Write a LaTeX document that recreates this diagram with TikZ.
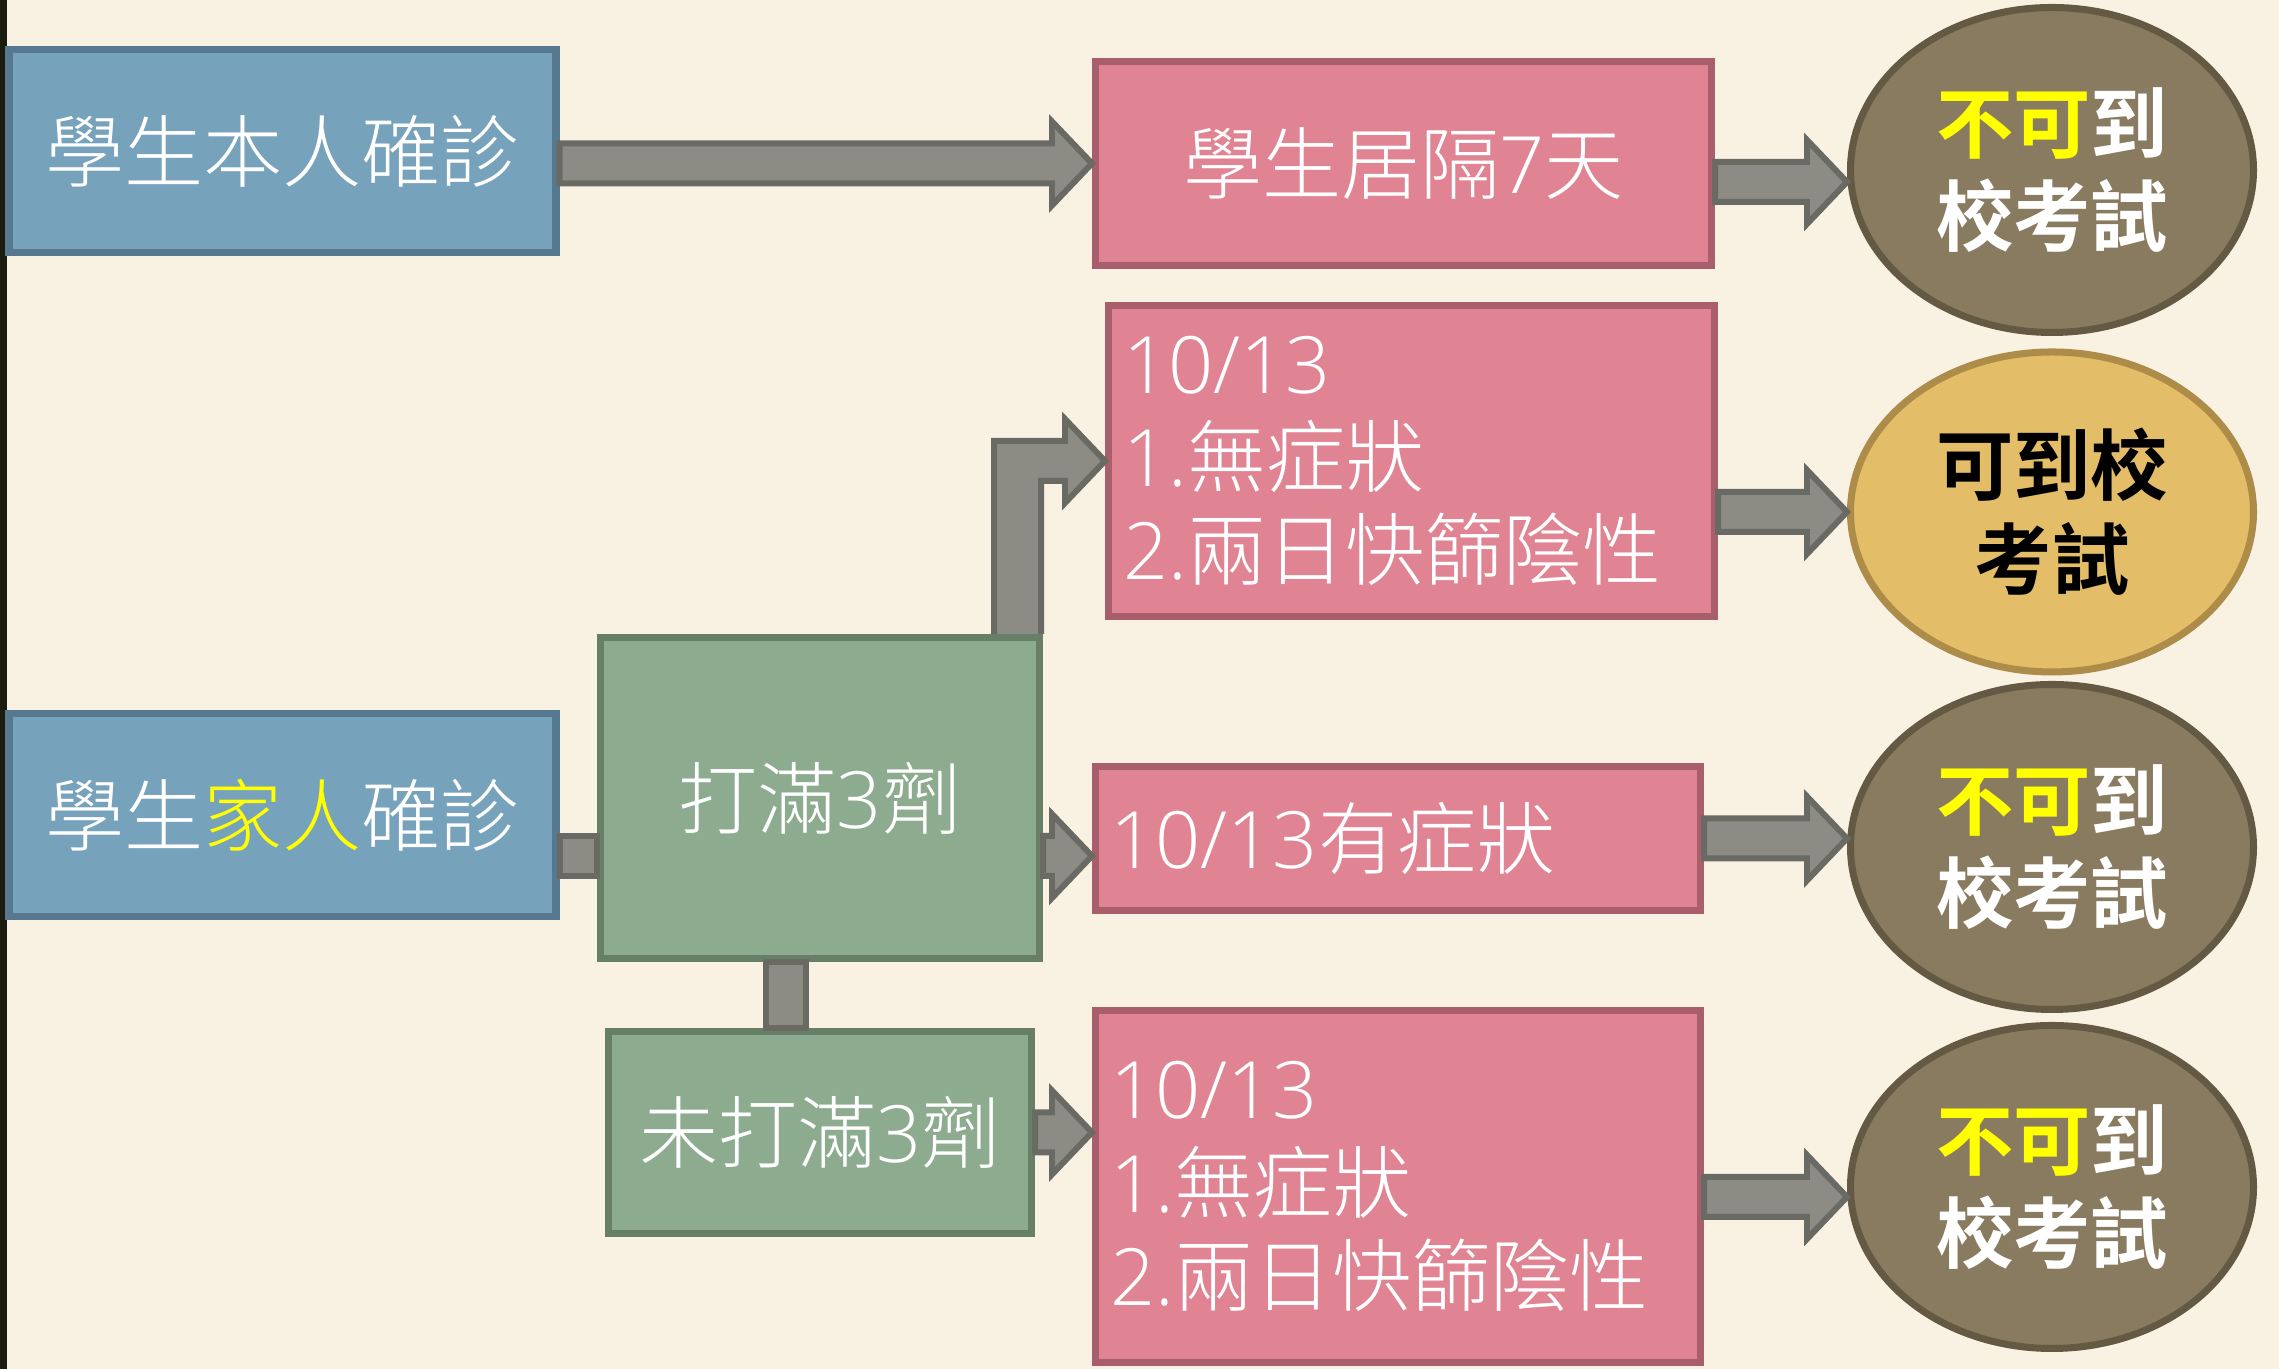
\documentclass[tikz,border=0pt]{standalone}
\usepackage{fontspec}
\setmainfont{Noto Sans CJK TC}[UprightFont=* Light, BoldFont=* Bold]
\IfFontExistsTF{Open Sans Light}{\newfontfamily\numfont{Open Sans Light}}{\newcommand{\numfont}{}}
\usetikzlibrary{shapes.geometric,calc}
\definecolor{bgCream}{RGB}{249,242,226}
\definecolor{sideBar}{RGB}{28,27,16}
\definecolor{boxBlue}{RGB}{119,162,187}
\definecolor{boxBlueEdge}{RGB}{86,121,143}
\definecolor{boxPink}{RGB}{224,131,147}
\definecolor{boxPinkEdge}{RGB}{168,94,107}
\definecolor{boxGreen}{RGB}{141,171,142}
\definecolor{boxGreenEdge}{RGB}{103,127,103}
\definecolor{ovalBrown}{RGB}{137,123,96}
\definecolor{ovalBrownEdge}{RGB}{100,90,68}
\definecolor{ovalGold}{RGB}{227,189,103}
\definecolor{ovalGoldEdge}{RGB}{173,140,74}
\definecolor{arrowGray}{RGB}{140,140,132}
\definecolor{arrowEdge}{RGB}{105,106,99}
\definecolor{hiYellow}{RGB}{255,255,0}

\newcommand{\shaftw}{0.2cm}
\newcommand{\headw}{0.42cm}
\newcommand{\headl}{0.4cm}
\newcommand{\nm}[1]{{\numfont #1}}
% fat arrow, level with its tip
\newcommand{\fatarrow}[2]{%
  \draw[arrowbody] let \p1=(#1), \p2=(#2) in
    (\x1,\y2+\shaftw) -- (\x2-\headl,\y2+\shaftw) -- (\x2-\headl,\y2+\headw) -- (\x2,\y2)
    -- (\x2-\headl,\y2-\headw) -- (\x2-\headl,\y2-\shaftw) -- (\x1,\y2-\shaftw) -- cycle;}
% fat bar, no head
\newcommand{\fatbar}[2]{%
  \draw[arrowbody] let \p1=(#1), \p2=(#2) in (\x1,\y2+\shaftw) rectangle (\x2,\y2-\shaftw);}

\begin{document}
\begin{tikzpicture}
\tikzstyle{every node}=[font=\fontsize{22.5}{26.5}\selectfont, text=white, line width=2pt]
\tikzstyle{bluebox}=[fill=boxBlue, draw=boxBlueEdge, minimum width=5.47cm, minimum height=2.03cm]
\tikzstyle{pinkbox}=[fill=boxPink, draw=boxPinkEdge]
\tikzstyle{notebox}=[pinkbox, minimum width=6.05cm, text width=5.75cm, inner xsep=0.15cm, align=left]
\tikzstyle{greenbox}=[fill=boxGreen, draw=boxGreenEdge]
\tikzstyle{oval}=[ellipse, minimum width=4.03cm, minimum height=3.25cm, inner sep=0pt, align=center,
  font=\fontsize{22}{26.7}\selectfont\bfseries]
\tikzstyle{nooval}=[oval, fill=ovalBrown, draw=ovalBrownEdge]
\tikzstyle{arrowbody}=[fill=arrowGray, draw=arrowEdge, line width=1.7pt, line join=miter]

  \fill[bgCream] (0,0) rectangle (22.79,13.69);
  \fill[sideBar] (0,0) rectangle (0.07,13.69);

  % left column
  \node[bluebox] (self) at (2.825,12.175) {學生本人確診};
  \node[bluebox] (family) at (2.825,5.54) {學生\textcolor{hiYellow}{家人}確診};

  % doses
  \node[greenbox, minimum width=4.39cm, minimum height=3.21cm] (full) at (8.20,5.71) {打滿\nm{3}劑};
  \node[greenbox, minimum width=4.23cm, minimum height=2.02cm] (notfull) at (8.20,2.365) {未打滿\nm{3}劑};

  % conditions
  \node[pinkbox, minimum width=6.16cm, minimum height=2.04cm] (quar) at (14.035,12.055) {學生居隔\nm{7}天};
  \node[notebox, minimum width=6.06cm, text width=5.76cm, minimum height=3.11cm] (ok) at (14.115,9.08) {\nm{10/13}\\\nm{1.}無症狀\\\nm{2.}兩日快篩陰性};
  \node[notebox, minimum height=1.44cm] (sym) at (13.98,5.305) {\nm{10/13}有症狀};
  \node[notebox, minimum height=3.52cm] (neg) at (13.98,1.825) {\nm{10/13}\\\nm{1.}無症狀\\\nm{2.}兩日快篩陰性};

  % results
  \node[nooval] (no1) at (20.52,11.99) {\textcolor{hiYellow}{不可}到\\校考試};
  \node[oval, fill=ovalGold, draw=ovalGoldEdge, text=black, minimum height=3.20cm] (yes) at (20.52,8.57) {可到校\\考試};
  \node[nooval] (no2) at (20.52,5.22) {\textcolor{hiYellow}{不可}到\\校考試};
  \node[nooval, minimum height=3.23cm] (no3) at (20.52,1.82) {\textcolor{hiYellow}{不可}到\\校考試};

  \coordinate (midrow) at ([yshift=-0.175cm]sym.west);

  \fatarrow{self.east}{quar.west}
  \fatarrow{quar.east}{[yshift=-0.12cm]no1.west}
  \fatbar{family.east}{full.west |- midrow}
  \fatarrow{full.east}{midrow}
  \fatarrow{sym.east}{no2.west |- sym.east}
  \fatarrow{notfull.east}{neg.west |- notfull.east}
  \fatarrow{neg.east}{[yshift=-0.1cm]no3.west}
  \fatarrow{ok.east}{yes.west}
  % bent arrow up to the first note, left open at the bottom
  \draw[arrowbody] let \p1=(full.north east), \p2=(ok.west) in
    (\x1-0.02cm,\y1) -- (\x1-0.02cm,\y2-\shaftw) -- (\x2-\headl,\y2-\shaftw) -- (\x2-\headl,\y2-\headw)
    -- (\x2,\y2) -- (\x2-\headl,\y2+\headw) -- (\x2-\headl,\y2+\shaftw) -- (\x1-0.49cm,\y2+\shaftw) -- (\x1-0.49cm,\y1);
  \draw[arrowbody] let \p1=([xshift=-0.34cm]full.south), \p2=(notfull.north) in
    (\x1-\shaftw,\y1) rectangle (\x1+\shaftw,\y2);

\end{tikzpicture}
\end{document}
